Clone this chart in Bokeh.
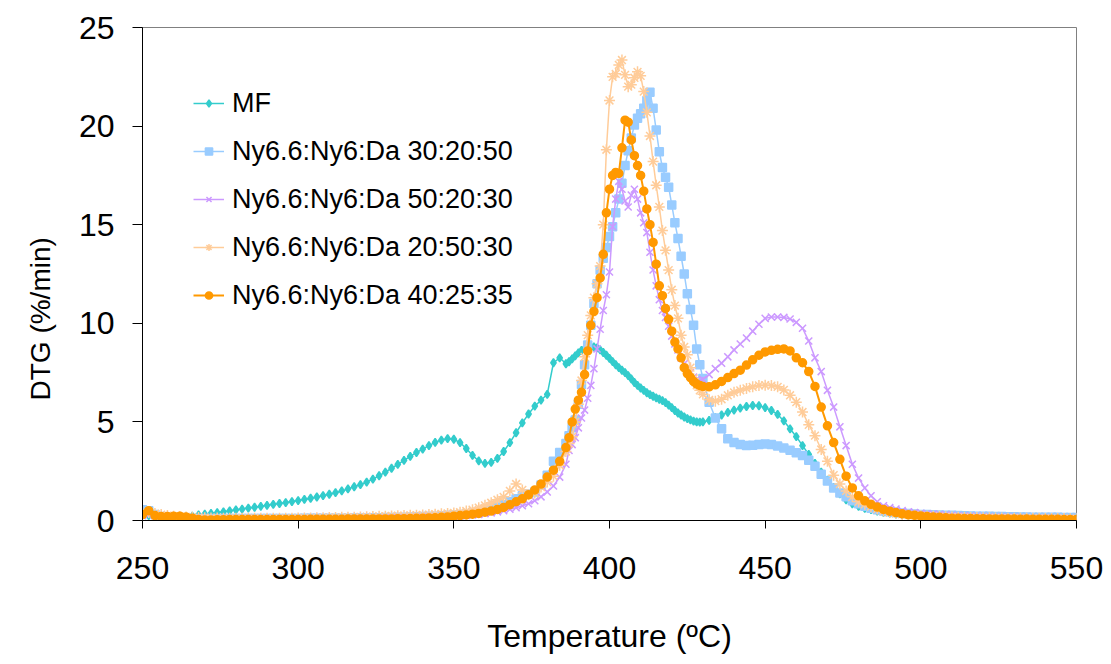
from bokeh.plotting import figure
from bokeh.models import Range1d, FixedTicker, Legend, LegendItem, Title
from bokeh.embed import file_html
from bokeh.resources import INLINE

# Temperature grid (ºC)
temps_a = list(range(250, 386, 2))
temps_b = list(range(386, 431, 1))
temps_c = list(range(432, 551, 2))
temperature = temps_a + temps_b + temps_c

# DTG (%/min)
mf = [
    0.30, 0.25, 0.18, 0.15, 0.13, 0.13, 0.15, 0.18, 0.22, 0.28,
    0.32, 0.36, 0.40, 0.44, 0.49, 0.54, 0.58, 0.63, 0.67, 0.72,
    0.77, 0.82, 0.86, 0.91, 0.96, 1.01, 1.07, 1.13, 1.19, 1.26,
    1.33, 1.41, 1.50, 1.60, 1.71, 1.82, 1.95, 2.10, 2.27, 2.45,
    2.65, 2.85, 3.05, 3.25, 3.45, 3.62, 3.80, 3.96, 4.08, 4.15,
    4.12, 3.95, 3.65, 3.30, 3.02, 2.90, 2.95, 3.15, 3.50, 3.95,
    4.45, 4.95, 5.40, 5.80, 6.10, 6.40, 8.00, 8.25,
    7.95, 8.05, 8.20, 8.35, 8.50, 8.62, 8.72, 8.80, 8.82, 8.80,
    8.75, 8.65, 8.52, 8.38, 8.22, 8.06, 7.90, 7.75, 7.62, 7.50,
    7.35, 7.18, 7.00, 6.85, 6.72, 6.60, 6.48, 6.38, 6.30, 6.22,
    6.15, 6.08, 5.98, 5.85, 5.72, 5.58, 5.45, 5.35, 5.25, 5.17,
    5.10, 5.04, 5.00, 4.99, 5.00,
    5.08, 5.22, 5.35, 5.48, 5.60, 5.70, 5.78, 5.83, 5.82, 5.72,
    5.58, 5.38, 5.05, 4.65, 4.25, 3.80, 3.35, 2.90, 2.45, 2.05,
    1.68, 1.35, 1.05, 0.85, 0.72, 0.62, 0.55, 0.48, 0.42, 0.37,
    0.33, 0.30, 0.27, 0.25, 0.23, 0.22, 0.21, 0.20, 0.19, 0.18,
    0.17, 0.16, 0.15, 0.15, 0.14, 0.13, 0.13, 0.12, 0.12, 0.11,
    0.11, 0.10, 0.10, 0.10, 0.09, 0.09, 0.09, 0.08, 0.08, 0.08,
]

ny_30_20_50 = [
    0.55, 0.50, 0.30, 0.20, 0.15, 0.12, 0.10, 0.10, 0.10, 0.10,
    0.10, 0.10, 0.10, 0.10, 0.10, 0.10, 0.10, 0.10, 0.10, 0.10,
    0.10, 0.10, 0.10, 0.10, 0.10, 0.10, 0.11, 0.11, 0.11, 0.11,
    0.12, 0.12, 0.12, 0.12, 0.13, 0.13, 0.13, 0.14, 0.14, 0.15,
    0.15, 0.16, 0.17, 0.18, 0.19, 0.20, 0.21, 0.22, 0.24, 0.26,
    0.28, 0.31, 0.34, 0.38, 0.43, 0.50, 0.58, 0.68, 0.80, 0.95,
    1.10, 1.25, 1.35, 1.45, 1.80, 2.30, 3.00, 3.45,
    3.90, 4.30, 4.70, 5.10, 5.90, 6.90, 7.90, 8.90, 9.90, 11.00,
    12.00, 12.70, 13.30, 13.85, 14.40, 14.90, 15.60, 16.30, 17.10, 18.00,
    18.75, 19.40, 20.05, 20.40, 20.62, 20.90, 21.30, 21.72, 20.90, 19.80,
    18.70, 17.90, 17.40, 16.90, 16.00, 15.10, 14.30, 13.40, 12.50, 11.50,
    10.70, 9.90, 8.70, 7.90, 7.20,
    6.00, 5.20, 4.65, 4.15, 3.95, 3.85, 3.80, 3.82, 3.86, 3.88,
    3.86, 3.78, 3.68, 3.56, 3.44, 3.30, 3.05, 2.75, 2.35, 2.00,
    1.65, 1.40, 1.20, 1.00, 0.85, 0.72, 0.62, 0.54, 0.48, 0.44,
    0.41, 0.38, 0.35, 0.33, 0.31, 0.30, 0.29, 0.28, 0.27, 0.26,
    0.25, 0.24, 0.23, 0.22, 0.21, 0.21, 0.20, 0.20, 0.19, 0.19,
    0.18, 0.18, 0.17, 0.17, 0.16, 0.16, 0.16, 0.15, 0.15, 0.15,
]

ny_50_20_30 = [
    0.25, 0.30, 0.25, 0.15, 0.10, 0.10, 0.10, 0.10, 0.10, 0.10,
    0.10, 0.09, 0.09, 0.09, 0.08, 0.08, 0.08, 0.08, 0.08, 0.08,
    0.08, 0.08, 0.08, 0.08, 0.08, 0.08, 0.08, 0.08, 0.09, 0.09,
    0.09, 0.09, 0.09, 0.10, 0.10, 0.10, 0.11, 0.11, 0.12, 0.12,
    0.13, 0.13, 0.14, 0.15, 0.15, 0.16, 0.17, 0.18, 0.19, 0.20,
    0.22, 0.24, 0.26, 0.28, 0.31, 0.35, 0.39, 0.44, 0.50, 0.57,
    0.65, 0.75, 0.85, 1.00, 1.20, 1.45, 1.75, 2.20,
    2.85, 3.55, 3.85, 4.20, 4.70, 5.20, 5.60, 6.20, 6.85, 7.70,
    8.70, 9.70, 10.65, 11.45, 12.60, 14.90, 16.30, 17.20, 16.80, 16.20,
    15.90, 16.50, 16.80, 16.30, 15.60, 15.10, 14.60, 13.60, 12.70, 11.90,
    11.20, 10.65, 10.30, 9.85, 9.35, 8.95, 8.65, 8.25, 7.95, 7.75,
    7.50, 7.27, 7.15, 7.10, 7.15,
    7.40, 7.70, 7.98, 8.30, 8.65, 8.95, 9.25, 9.60, 9.95, 10.25,
    10.32, 10.32, 10.30, 10.22, 10.05, 9.75, 9.10, 8.25, 7.55, 6.60,
    5.75, 4.75, 3.80, 2.85, 2.15, 1.65, 1.25, 0.95, 0.75, 0.65,
    0.58, 0.50, 0.44, 0.40, 0.36, 0.34, 0.32, 0.30, 0.28, 0.26,
    0.24, 0.23, 0.22, 0.21, 0.20, 0.19, 0.18, 0.17, 0.16, 0.16,
    0.15, 0.14, 0.14, 0.13, 0.13, 0.12, 0.12, 0.11, 0.11, 0.10,
]

ny_20_50_30 = [
    0.45, 0.40, 0.35, 0.30, 0.25, 0.22, 0.20, 0.18, 0.16, 0.15,
    0.14, 0.13, 0.13, 0.12, 0.12, 0.12, 0.12, 0.12, 0.12, 0.12,
    0.12, 0.12, 0.12, 0.12, 0.12, 0.13, 0.13, 0.13, 0.14, 0.14,
    0.15, 0.15, 0.16, 0.16, 0.17, 0.18, 0.19, 0.20, 0.21, 0.22,
    0.23, 0.24, 0.25, 0.26, 0.27, 0.28, 0.30, 0.32, 0.34, 0.36,
    0.38, 0.42, 0.48, 0.55, 0.65, 0.77, 0.90, 1.05, 1.20, 1.50,
    1.85, 1.55, 1.30, 1.40, 1.70, 1.95, 2.25, 2.80,
    3.50, 3.90, 4.25, 5.00, 5.90, 7.10, 8.30, 9.40, 10.40, 11.30,
    12.00, 12.90, 15.00, 18.80, 21.30, 22.50, 22.65, 23.10, 23.35, 22.60,
    22.00, 22.10, 22.45, 22.75, 22.55, 21.75, 20.70, 19.50, 18.20, 17.00,
    15.90, 14.70, 13.70, 12.70, 11.70, 10.90, 10.25, 9.40, 8.80, 8.40,
    7.75, 7.20, 6.85, 6.60, 6.40,
    6.12, 6.05, 6.15, 6.35, 6.50, 6.60, 6.70, 6.78, 6.85, 6.86,
    6.84, 6.78, 6.62, 6.35, 6.00, 5.50, 4.85, 4.30, 3.60, 3.00,
    2.30, 1.85, 1.50, 1.20, 0.95, 0.82, 0.70, 0.58, 0.48, 0.40,
    0.35, 0.31, 0.28, 0.26, 0.24, 0.22, 0.21, 0.20, 0.19, 0.18,
    0.17, 0.16, 0.15, 0.15, 0.14, 0.14, 0.13, 0.13, 0.12, 0.12,
    0.12, 0.11, 0.11, 0.11, 0.10, 0.10, 0.10, 0.10, 0.09, 0.09,
]

ny_40_25_35 = [
    0.30, 0.50, 0.25, 0.20, 0.20, 0.22, 0.22, 0.18, 0.12, 0.05,
    0.02, 0.03, 0.04, 0.04, 0.05, 0.05, 0.05, 0.05, 0.05, 0.05,
    0.05, 0.05, 0.05, 0.05, 0.05, 0.05, 0.05, 0.06, 0.06, 0.06,
    0.06, 0.06, 0.06, 0.07, 0.07, 0.07, 0.07, 0.08, 0.08, 0.08,
    0.08, 0.09, 0.09, 0.10, 0.11, 0.12, 0.13, 0.14, 0.16, 0.18,
    0.22, 0.25, 0.28, 0.32, 0.36, 0.42, 0.48, 0.56, 0.66, 0.80,
    0.95, 1.10, 1.30, 1.55, 1.85, 2.20, 2.55, 3.00,
    3.70, 4.20, 5.00, 5.65, 6.10, 6.50, 7.40, 8.60, 9.90, 10.60,
    11.30, 12.30, 13.50, 15.60, 16.80, 17.50, 17.65, 17.60, 18.90, 20.30,
    20.20, 19.30, 18.50, 18.00, 17.50, 16.70, 15.80, 15.00, 14.10, 13.00,
    11.90, 11.40, 10.75, 10.20, 9.60, 9.05, 8.70, 8.25, 7.75, 7.45,
    7.25, 7.05, 6.92, 6.85, 6.80,
    6.78, 6.88, 7.05, 7.25, 7.45, 7.62, 7.88, 8.15, 8.38, 8.55,
    8.63, 8.68, 8.70, 8.60, 8.25, 8.00, 7.55, 6.80, 5.75, 4.80,
    3.95, 3.10, 2.25, 1.65, 1.25, 1.00, 0.82, 0.68, 0.56, 0.47,
    0.40, 0.34, 0.29, 0.26, 0.23, 0.20, 0.18, 0.16, 0.14, 0.12,
    0.11, 0.10, 0.10, 0.09, 0.09, 0.08, 0.08, 0.08, 0.07, 0.07,
    0.07, 0.07, 0.06, 0.06, 0.06, 0.06, 0.06, 0.05, 0.05, 0.05,
]

series_names = ["MF", "Ny6.6:Ny6:Da 30:20:50", "Ny6.6:Ny6:Da 50:20:30",
                "Ny6.6:Ny6:Da 20:50:30", "Ny6.6:Ny6:Da 40:25:35"]
series_values = [mf, ny_30_20_50, ny_50_20_30, ny_20_50_30, ny_40_25_35]
series_colors = ["#33CCCC", "#99CCFF", "#CC99FF", "#FFCC99", "#FF9900"]
series_markers = ["diamond", "square", "x", "asterisk", "circle"]
marker_sizes = [8, 8, 10, 11, 8]
x_ticks = [250, 300, 350, 400, 450, 500, 550]
y_ticks = [0, 5, 10, 15, 20, 25]

FONT = "Liberation Sans"

p = figure(width=1111, height=664, output_backend="svg", toolbar_location=None,
           x_range=Range1d(250, 550), y_range=Range1d(0, 25),
           min_border_left=142, min_border_right=35, min_border_top=27,
           min_border_bottom=144)
p.background_fill_color = "white"
p.border_fill_color = "white"
p.outline_line_color = "#808080"
p.outline_line_width = 1
p.xgrid.visible = False
p.ygrid.visible = False

items = []
for name, vals, col, mk, sz in zip(series_names, series_values, series_colors,
                                     series_markers, marker_sizes):
    lw = 2 if name.endswith("40:25:35") else 1.5
    r1 = p.line(temperature, vals, line_color=col, line_width=lw)
    r2 = p.scatter(temperature, vals, marker=mk, size=sz, fill_color=col,
                   line_color=col, line_width=1.5)
    items.append(LegendItem(label=name, renderers=[r1, r2]))

legend = Legend(items=items, location=(51, 209), orientation="vertical",
                border_line_color=None, background_fill_alpha=0,
                padding=0, spacing=16, glyph_width=31, glyph_height=18,
                label_height=32, label_standoff=8,
                label_text_font=FONT, label_text_font_size="27px",
                label_text_color="black")
p.add_layout(legend, "center")

for ax in (p.xaxis, p.yaxis):
    ax.axis_line_color = "black"
    ax.axis_line_width = 1
    ax.major_tick_line_color = "black"
    ax.minor_tick_line_color = None
    ax.major_tick_in = 0
    ax.major_label_text_font = FONT
    ax.major_label_text_font_size = "32px"
    ax.major_label_text_color = "black"
    ax.axis_label_text_font = FONT
    ax.axis_label_text_font_size = "32px"
    ax.axis_label_text_font_style = "normal"
    ax.axis_label_text_color = "black"

p.xaxis.ticker = FixedTicker(ticks=x_ticks)
p.yaxis.ticker = FixedTicker(ticks=y_ticks)
p.xaxis.major_tick_out = 8
p.yaxis.major_tick_out = 10
p.xaxis.major_label_standoff = 28
p.yaxis.major_label_standoff = 18
p.xaxis.axis_label = "Temperature (ºC)"
p.xaxis.axis_label_standoff = 36

# y-axis title, placed lower than the frame centre as in the reference
y_title = Title(text="DTG (%/min)", align="left", offset=120,
                vertical_align="bottom", standoff=40,
                text_font=FONT, text_font_size="28px",
                text_font_style="normal", text_color="black")
p.add_layout(y_title, "left")

open("out.html", "w").write(file_html(p, INLINE))
